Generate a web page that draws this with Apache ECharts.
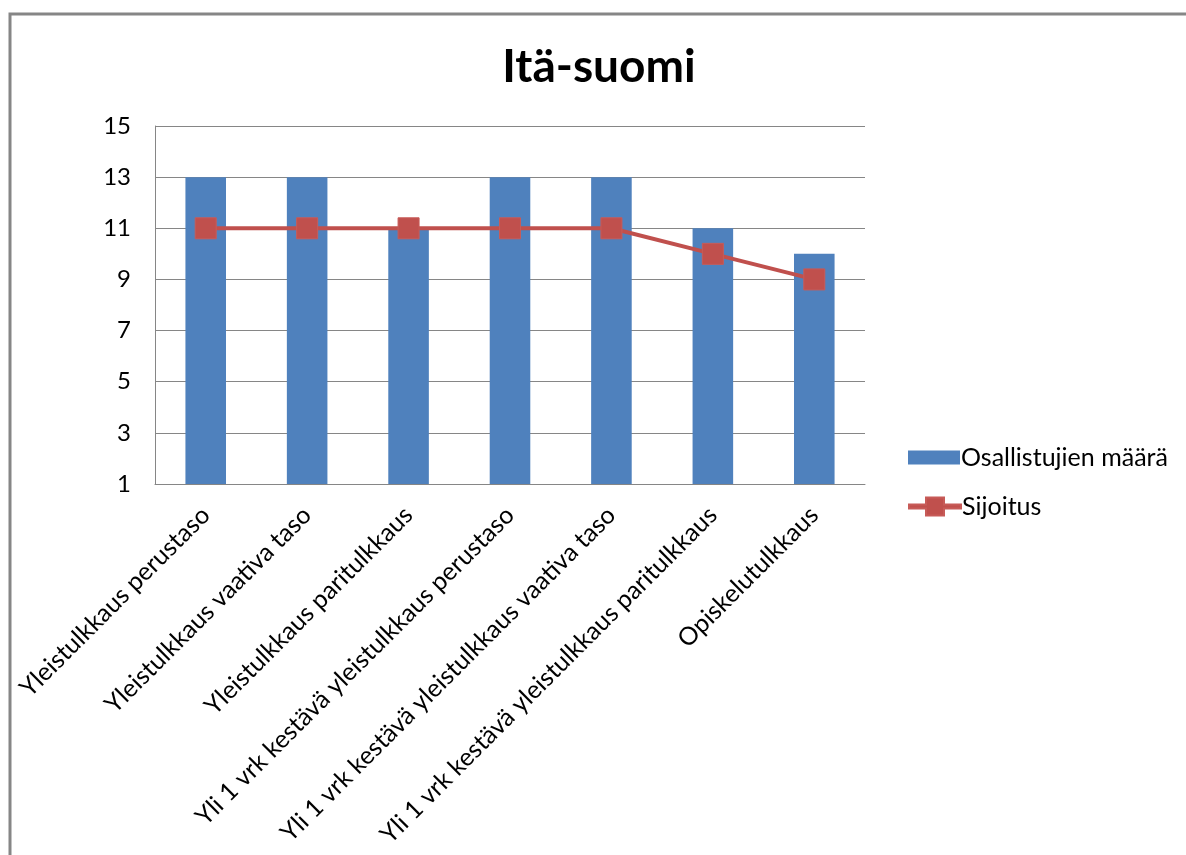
<!DOCTYPE html>
<html>
<head>
<meta charset="utf-8">
<script src="https://cdn.jsdelivr.net/npm/echarts@6/dist/echarts.min.js"></script>
<style>
  html, body { margin: 0; padding: 0; background: #fff; }
  #chart { width: 1186px; height: 855px; }
</style>
</head>
<body>
<div id="chart"></div>
<script>
const titleText = 'Itä-suomi';
const categories = [
  'Yleistulkkaus perustaso',
  'Yleistulkkaus vaativa taso',
  'Yleistulkkaus paritulkkaus',
  'Yli 1 vrk kestävä yleistulkkaus perustaso',
  'Yli 1 vrk kestävä yleistulkkaus vaativa taso',
  'Yli 1 vrk kestävä yleistulkkaus paritulkkaus',
  'Opiskelutulkkaus'
];
const participants = [13, 13, 11, 13, 13, 11, 10];
const placement = [11, 11, 11, 11, 11, 10, 9];
const yTicks = [1, 3, 5, 7, 9, 11, 13, 15];
const seriesNames = ['Osallistujien määrä', 'Sijoitus'];

const FONT = 'Lato, "Open Sans", sans-serif';
const BLUE = '#4F81BD';
const RED = '#C0504D';
// line-with-square marker used as the legend key of the line series
const LINE_KEY = 'path://M0,7L17,7L17,0L35,0L35,7L52,7L52,11L35,11L35,18L17,18L17,11L0,11Z';

const chart = echarts.init(document.getElementById('chart'), null, { renderer: 'canvas' });

const legendText = { fontFamily: FONT, fontSize: 25, color: '#000', padding: [0, 0, 0, -4] };

chart.setOption({
  backgroundColor: '#ffffff',
  animation: false,
  graphic: [{
    type: 'rect',
    shape: { x: 10, y: 14, width: 1300, height: 1000 },
    style: { fill: 'none', stroke: '#868686', lineWidth: 3 },
    silent: true
  }],
  title: {
    text: titleText,
    left: 594,
    textAlign: 'center',
    top: 39,
    textStyle: { fontFamily: FONT, fontSize: 46, fontWeight: 'bold', color: '#000' }
  },
  legend: [
    {
      left: 903,
      top: 440,
      itemWidth: 52,
      itemHeight: 14,
      textStyle: legendText,
      data: [{ name: seriesNames[0], icon: 'rect' }]
    },
    {
      left: 903,
      top: 489,
      itemWidth: 52,
      itemHeight: 18,
      textStyle: legendText,
      data: [{ name: seriesNames[1], icon: LINE_KEY, itemStyle: { color: RED } }]
    }
  ],
  grid: { left: 155, top: 126, width: 710, height: 358 },
  xAxis: {
    type: 'category',
    data: categories,
    axisLine: { show: true, lineStyle: { color: '#868686', width: 1 } },
    axisTick: { show: false },
    axisLabel: {
      rotate: 45,
      interval: 0,
      margin: 27,
      fontFamily: FONT,
      fontSize: 25,
      color: '#000'
    }
  },
  yAxis: {
    type: 'value',
    min: 1,
    max: 15,
    startValue: 1,
    axisLine: { show: true, lineStyle: { color: '#868686', width: 1 } },
    axisTick: { show: false, customValues: yTicks },
    axisLabel: {
      customValues: yTicks,
      margin: 24,
      fontFamily: FONT,
      fontSize: 24,
      color: '#000'
    },
    splitLine: { show: true, lineStyle: { color: '#868686', width: 1 } }
  },
  series: [
    {
      name: seriesNames[0],
      type: 'bar',
      data: participants,
      barWidth: '40%',
      itemStyle: { color: BLUE }
    },
    {
      name: seriesNames[1],
      type: 'line',
      data: placement,
      symbol: 'rect',
      symbolSize: 21,
      lineStyle: { color: RED, width: 4 },
      itemStyle: { color: RED, borderColor: '#C75B58', borderWidth: 1 }
    }
  ]
});
</script>
</body>
</html>
